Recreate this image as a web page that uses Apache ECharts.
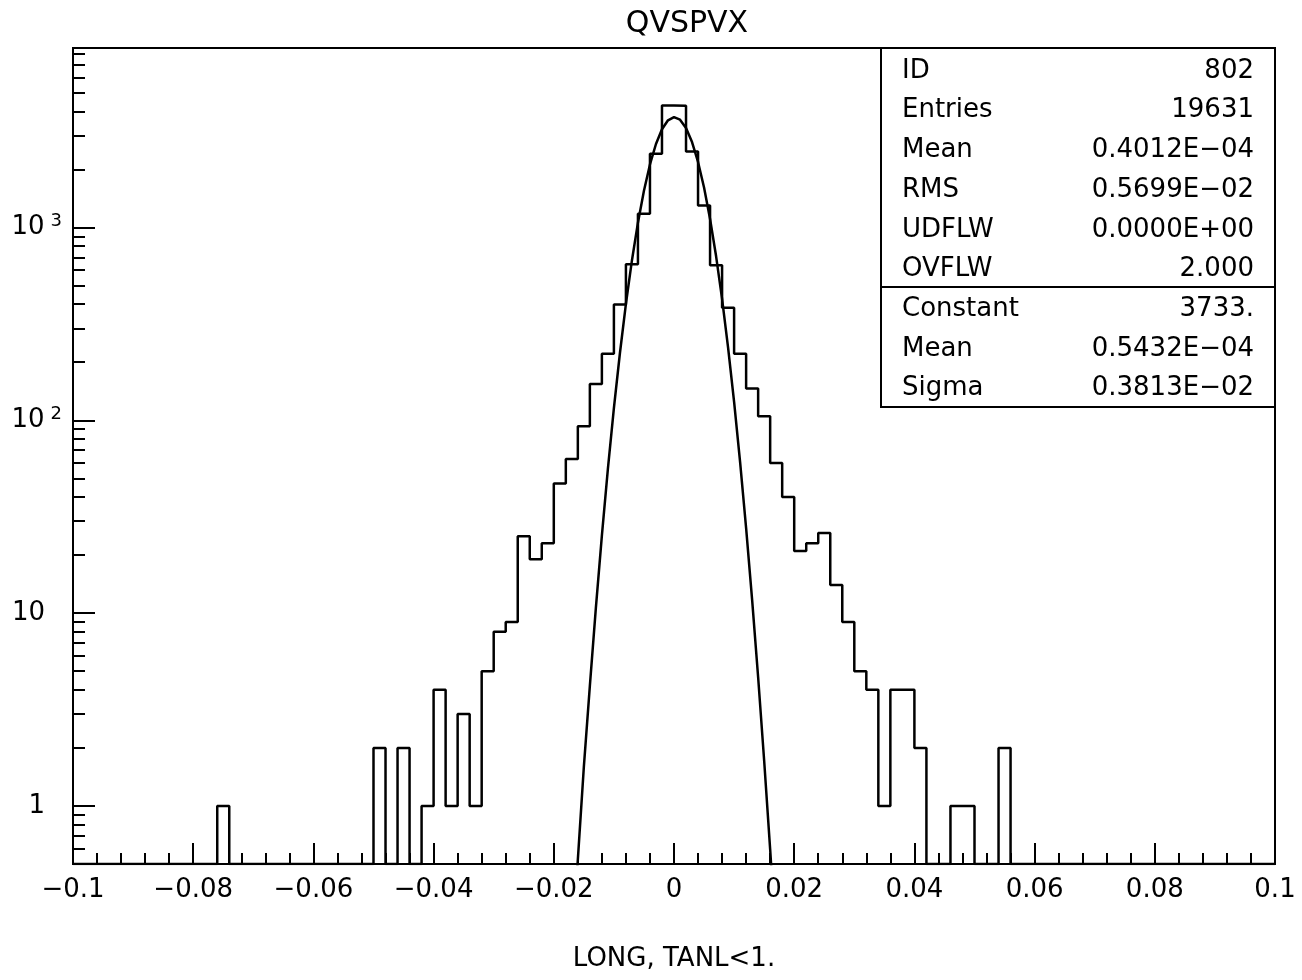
<!DOCTYPE html>
<html><head><meta charset="utf-8">
<script src="https://cdn.jsdelivr.net/npm/echarts@6/dist/echarts.min.js"></script>
<style>html,body{margin:0;padding:0;background:#fff}#c{width:1302px;height:980px}</style>
</head><body><div id="c"></div>
<script>
// ---- data ----
const chartTitle = 'QVSPVX';
const xAxisTitle = 'LONG, TANL<1.';
const xMin = -0.1, xMax = 0.1, binWidth = 0.002;
// bin contents, 100 bins from -0.1 to 0.1
const counts = [
  0,0,0,0,0,0,0,0,0,0,
  0,0,1,0,0,0,0,0,0,0,
  0,0,0,0,0,2,0,2,0,1,
  4,1,3,1,5,8,9,25,19,23,
  47,63,93,154,221,398,644,1177,2410,4290,
  4280,2476,1299,636,383,221,146,105,60,40,
  21,23,26,14,9,5,4,1,4,4,
  2,0,0,1,1,0,0,2,0,0,
  0,0,0,0,0,0,0,0,0,0,
  0,0,0,0,0,0,0,0,0,0
];
const yAxisMin = 0.5, yAxisMax = 8520;
const yMajorTicks = [1, 10, 100, 1000];
const yMinorTicks = [0.6,0.7,0.8,0.9, 2,3,4,5,6,7,8,9, 20,30,40,50,60,70,80,90,
  200,300,400,500,600,700,800,900, 2000,3000,4000,5000,6000,7000,8000];
// Gaussian fit curve
const fitX = [-0.017,-0.016,-0.015,-0.014,-0.013,-0.012,-0.011,-0.010,-0.009,-0.008,-0.007,-0.006,
  -0.005,-0.004,-0.003,-0.002,-0.001,0,0.001,0.002,0.003,0.004,0.005,0.006,0.007,0.008,0.009,
  0.010,0.011,0.012,0.013,0.014,0.015,0.016,0.017];
const fitY = [0.169,0.527,1.594,4.19,10.65,25.2,55.9,115.5,222.6,401.1,674.3,1058.4,
  1550.8,2121.3,2708.5,3228.8,3593.0,3732.6,3620,3277.3,2769.7,2185.2,1609.4,1106.8,710.4,425.7,238.1,
  124.4,60.6,27.6,11.72,4.65,1.72,0.595,0.192];
const statLabels = ['ID','Entries','Mean','RMS','UDFLW','OVFLW'];
const statValues = ['802','19631','0.4012E\u221204','0.5699E\u221202','0.0000E+00','2.000'];
const fitLabels = ['Constant','Mean','Sigma'];
const fitValues = ['3733.','0.5432E\u221204','0.3813E\u221202'];

// ---- build ----
const L = Math.log10;
const FONT = 'DejaVu Sans';
const floorLog = L(yAxisMin);
const histPts = counts.map((c, i) => [xMin + i * binWidth, c > 0 ? L(c) : floorLog]);
histPts.push([xMax, histPts[histPts.length - 1][1]]);
const fitPts = fitX.map((x, i) => [x, L(fitY[i])]);

const fmtX = v => {
  const r = +v.toFixed(4);
  return (r === 0 ? '0' : String(r)).replace('-', '\u2212');
};
const fmtY = v => {
  const n = Math.round(v);
  if (n === 0) return '{b|1}{sp| }';
  if (n === 1) return '{b|10}{sp| }';
  return '{b|10}{s|' + n + '}';
};

const graphics = [];
const box = {x: 881, y: 48, w: 394, h: 359, sep: 287};
graphics.push({type: 'rect', shape: {x: box.x, y: box.y, width: box.w, height: box.h},
  style: {fill: '#fff', stroke: '#000', lineWidth: 2}, z: 10});
graphics.push({type: 'line', shape: {x1: box.x, y1: box.sep, x2: box.x + box.w, y2: box.sep},
  style: {stroke: '#000', lineWidth: 2}, z: 11});
const allLabels = statLabels.concat(fitLabels);
const allValues = statValues.concat(fitValues);
allLabels.forEach((t, i) => {
  const y = 71 + 39.7 * i;
  graphics.push({type: 'text', z: 12, style: {text: t, x: 902, y: y, fill: '#000',
    font: '26px "DejaVu Sans"', textAlign: 'left', textVerticalAlign: 'middle'}});
  graphics.push({type: 'text', z: 12, style: {text: allValues[i], x: 1254, y: y, fill: '#000',
    font: '26px "DejaVu Sans"', textAlign: 'right', textVerticalAlign: 'middle'}});
});
graphics.push({type: 'text', z: 12, style: {text: chartTitle, x: 687, y: 24, fill: '#000',
  font: '30px "DejaVu Sans"', textAlign: 'center', textVerticalAlign: 'middle'}});

const chart = echarts.init(document.getElementById('c'), null, {renderer: 'canvas'});
chart.setOption({
  animation: false,
  backgroundColor: '#fff',
  textStyle: {fontFamily: FONT, color: '#000'},
  grid: {left: 73, right: 27, top: 48, bottom: 116, show: true, borderColor: '#000', borderWidth: 2,
    outerBoundsMode: 'none', containLabel: false},
  xAxis: {
    type: 'value', min: xMin, max: xMax, interval: 0.02,
    name: xAxisTitle, nameLocation: 'middle', nameGap: 82,
    nameTextStyle: {fontSize: 26, color: '#000', fontFamily: FONT},
    axisLine: {show: true, onZero: false, lineStyle: {color: '#000', width: 2}},
    axisTick: {show: true, inside: true, length: 21, lineStyle: {color: '#000', width: 2}},
    minorTick: {show: true, splitNumber: 5, length: 11, lineStyle: {color: '#000', width: 2}},
    splitLine: {show: false}, minorSplitLine: {show: false},
    axisLabel: {fontSize: 26, color: '#000', margin: 13, fontFamily: FONT, formatter: fmtX,
      showMinLabel: true, showMaxLabel: true, hideOverlap: false}
  },
  yAxis: [{
    type: 'value', position: 'left', min: floorLog, max: L(yAxisMax),
    axisLine: {show: true, onZero: false, lineStyle: {color: '#000', width: 2}},
    axisTick: {show: true, inside: true, length: 22, lineStyle: {color: '#000', width: 2},
      customValues: yMajorTicks.map(L)},
    splitLine: {show: false},
    axisLabel: {show: true, margin: 11, fontSize: 26, color: '#000', fontFamily: FONT,
      customValues: yMajorTicks.map(L), formatter: fmtY,
      rich: {b: {fontSize: 26, lineHeight: 30, fontFamily: FONT},
             s: {fontSize: 18, lineHeight: 18, verticalAlign: 'top', padding: [0, 0, 0, 6], fontFamily: FONT},
             sp: {width: 17, fontSize: 18}}}
  }, {
    type: 'value', position: 'left', offset: 0, min: floorLog, max: L(yAxisMax),
    axisLine: {show: false, onZero: false},
    axisTick: {show: true, inside: true, length: 12, lineStyle: {color: '#000', width: 2},
      customValues: yMinorTicks.map(L)},
    splitLine: {show: false},
    axisLabel: {show: false}
  }],
  series: [{
    type: 'line', name: 'hist', data: histPts, step: 'end', showSymbol: false, symbol: 'none',
    lineStyle: {color: '#000', width: 2.5}, clip: true, z: 3
  }, {
    type: 'line', name: 'fit', data: fitPts, showSymbol: false, symbol: 'none', smooth: false,
    lineStyle: {color: '#000', width: 2.5}, clip: true, z: 4
  }],
  graphic: graphics
});
</script></body></html>
